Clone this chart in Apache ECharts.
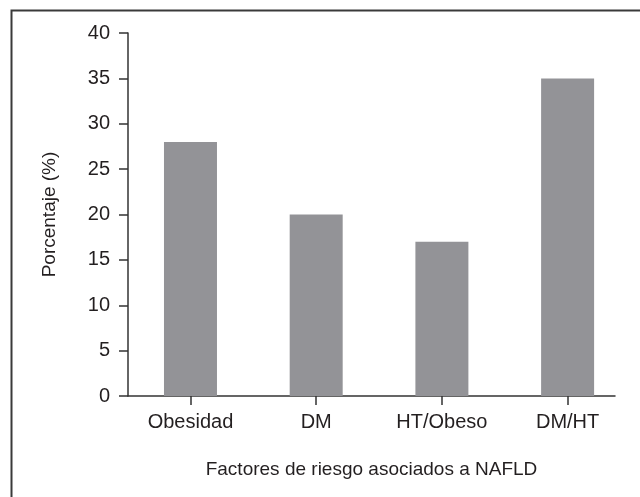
<!DOCTYPE html>
<html>
<head>
<meta charset="utf-8">
<script src="https://cdn.jsdelivr.net/npm/echarts@6/dist/echarts.min.js"></script>
<style>
html,body{margin:0;padding:0;background:#fff;}
#chart{width:640px;height:497px;}
</style>
</head>
<body>
<div id="chart"></div>
<script>
const categories = ['Obesidad', 'DM', 'HT/Obeso', 'DM/HT'];
const values = [28, 20, 17, 35];
const yTicks = [0, 5, 10, 15, 20, 25, 30, 35, 40];
const xTitle = 'Factores de riesgo asociados a NAFLD';
const yTitle = 'Porcentaje (%)';

const font = '"Liberation Sans", Arial, sans-serif';
const textColor = '#231f20';
const axisColor = '#333';

const chart = echarts.init(document.getElementById('chart'), null, {renderer: 'canvas'});
const idx = categories.map((c, i) => i);
chart.setOption({
  animation: false,
  backgroundColor: '#fff',
  graphic: [{
    type: 'rect', left: 9, top: 8, z: 100,
    shape: {width: 700, height: 600},
    style: {fill: 'none', stroke: '#3a3a3a', lineWidth: 2}
  }],
  grid: {left: 128, right: 25, top: 33, bottom: 101, containLabel: false},
  xAxis: {
    type: 'value',
    min: -0.497, max: 3.377,
    name: xTitle,
    nameLocation: 'middle',
    nameGap: 64,
    nameTextStyle: {fontFamily: font, fontSize: 19, color: textColor},
    axisLine: {show: true, onZero: false, lineStyle: {color: axisColor, width: 1.5}},
    axisTick: {show: true, length: 9, customValues: idx, lineStyle: {color: axisColor, width: 1.5}},
    axisLabel: {
      customValues: idx, margin: 16,
      fontFamily: font, fontSize: 20, color: textColor,
      formatter: v => categories[Math.round(v)]
    },
    splitLine: {show: false}
  },
  yAxis: {
    type: 'value', min: yTicks[0], max: yTicks[yTicks.length - 1], interval: 5,
    name: yTitle,
    nameLocation: 'middle',
    nameGap: 69,
    nameRotate: 90,
    nameTextStyle: {fontFamily: font, fontSize: 19, color: textColor},
    axisLine: {show: true, onZero: false, lineStyle: {color: axisColor, width: 1.5}},
    axisTick: {show: true, length: 9, lineStyle: {color: axisColor, width: 1.5}},
    axisLabel: {margin: 18, fontFamily: font, fontSize: 20, color: textColor},
    splitLine: {show: false}
  },
  series: [{
    type: 'bar',
    barWidth: 53,
    itemStyle: {color: '#939397'},
    data: values.map((v, i) => [i, v])
  }]
});
</script>
</body>
</html>
